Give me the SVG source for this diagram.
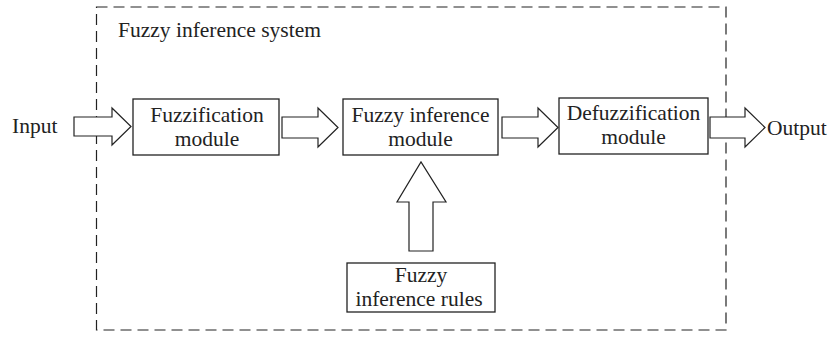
<svg xmlns="http://www.w3.org/2000/svg" width="836" height="337" viewBox="0 0 836 337">
<style>
.box{fill:#fff;stroke:#222;stroke-width:1.3}
.arr{fill:#fff;stroke:#222;stroke-width:1.2;stroke-linejoin:miter}
.t{font-family:"Liberation Serif","Times New Roman",serif;font-size:21.5px;fill:#222;text-anchor:middle}
.tl{font-family:"Liberation Serif","Times New Roman",serif;font-size:21.5px;fill:#222}
</style>
<rect width="836" height="337" fill="#fff"/>
<g id="system">
<rect x="96.5" y="7" width="629.5" height="323" fill="none" stroke="#222" stroke-width="1.2" stroke-dasharray="11 6"/>
<text class="tl" x="118" y="37">Fuzzy inference system</text>
</g>
<g id="connectors">
<polygon class="arr" points="74,117 112,117 112,108 131,126.5 112,145 112,136 74,136"/>
<polygon class="arr" points="282,117 318,117 318,108 338,127.5 318,147 318,138 282,138"/>
<polygon class="arr" points="502,117 538,117 538,108 558,127.5 538,147 538,138 502,138"/>
<polygon class="arr" points="710,117 745,117 745,108 765,127.5 745,147 745,138 710,138"/>
<polygon class="arr" points="409,251 409,202 397,202 421,162 446,202 433,202 433,251"/>
</g>
<g id="input"><text class="tl" x="12" y="133">Input</text></g>
<g id="output"><text class="tl" x="767" y="135">Output</text></g>
<g id="fuzzification">
<rect class="box" x="133" y="99" width="146" height="56"/>
<text class="t" x="207" y="122">Fuzzification</text>
<text class="t" x="207" y="146">module</text>
</g>
<g id="inference">
<rect class="box" x="343" y="99" width="155" height="56"/>
<text class="t" x="420.5" y="122">Fuzzy inference</text>
<text class="t" x="420.5" y="146">module</text>
</g>
<g id="defuzzification">
<rect class="box" x="559" y="98" width="149" height="56"/>
<text class="t" x="633.5" y="120">Defuzzification</text>
<text class="t" x="633.5" y="144">module</text>
</g>
<g id="rules">
<rect class="box" x="347" y="263" width="148" height="49"/>
<text class="t" x="421" y="282">Fuzzy</text>
<text class="t" x="419" y="306">inference rules</text>
</g>
</svg>
